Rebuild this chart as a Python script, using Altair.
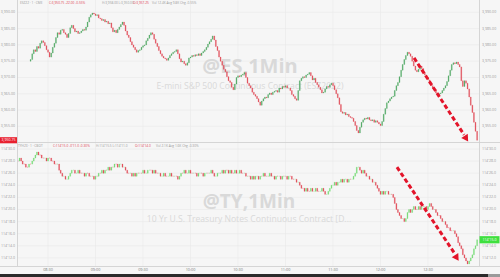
import altair as alt
import numpy as np
import pandas as pd

# ---------------- data ----------------
# minutes are counted from 08:30
es_start_minute = -11
es_first_open = 3975.00
es_close = [
    3975.50, 3977.25, 3978.50, 3978.00, 3979.50, 3979.00, 3980.50, 3981.25, 3980.75, 3979.75,
    3978.50, 3977.75, 3976.25, 3977.50, 3979.25, 3980.50, 3982.25, 3983.75, 3983.25, 3984.50,
    3984.75, 3983.75, 3983.25, 3982.25, 3983.50, 3985.25, 3986.00, 3985.00, 3984.00, 3984.25,
    3983.50, 3983.75, 3984.25, 3984.75, 3984.50, 3985.50, 3987.00, 3988.50, 3989.25, 3989.75,
    3989.50, 3989.00, 3989.25, 3988.25, 3988.00, 3987.50, 3987.75, 3987.00, 3987.25, 3986.50,
    3986.75, 3985.25, 3984.00, 3984.50, 3983.75, 3984.75, 3985.50, 3986.25, 3987.00, 3986.00,
    3984.25, 3983.00, 3982.25, 3981.00, 3980.00, 3979.25, 3978.50, 3977.75, 3978.25, 3978.50,
    3979.25, 3979.75, 3980.00, 3981.25, 3982.00, 3983.00, 3983.75, 3983.25, 3981.75, 3980.50,
    3979.50, 3978.25, 3977.25, 3976.50, 3976.00, 3975.75, 3975.25, 3976.00, 3976.75, 3977.25,
    3977.75, 3978.00, 3978.50, 3977.25, 3975.75, 3974.75, 3975.00, 3974.25, 3973.75, 3974.50,
    3976.00, 3976.25, 3976.75, 3976.50, 3977.00, 3976.75, 3977.25, 3976.75, 3977.50, 3978.00,
    3978.50, 3979.25, 3980.25, 3981.00, 3981.75, 3982.75, 3981.50, 3979.50, 3978.25, 3976.25,
    3975.00, 3973.75, 3972.50, 3971.75, 3970.25, 3969.00, 3968.50, 3967.00, 3966.25, 3968.00,
    3970.00, 3970.50, 3970.25, 3970.75, 3971.00, 3971.50, 3970.00, 3968.25, 3967.50, 3966.75,
    3965.50, 3964.75, 3964.25, 3963.50, 3962.50, 3961.50, 3962.75, 3963.50, 3964.00, 3963.75,
    3964.75, 3965.25, 3964.75, 3965.50, 3965.75, 3966.00, 3965.50, 3966.75, 3966.50, 3967.25,
    3967.00, 3967.50, 3966.75, 3966.75, 3966.00, 3964.75, 3964.25, 3963.50, 3963.00, 3966.00,
    3969.00, 3969.75, 3970.25, 3970.00, 3970.75, 3971.00, 3971.50, 3970.50, 3969.25, 3969.75,
    3968.50, 3967.75, 3967.00, 3966.25, 3965.25, 3965.50, 3966.50, 3967.25, 3967.00, 3967.75,
    3968.25, 3967.50, 3966.25, 3965.00, 3963.75, 3961.75, 3959.50, 3959.00, 3959.25, 3958.50,
    3958.75, 3958.00, 3957.75, 3957.50, 3956.50, 3955.25, 3953.75, 3953.00, 3954.75, 3956.25,
    3957.00, 3957.50, 3957.25, 3957.75, 3957.00, 3956.75, 3957.00, 3956.25, 3956.75, 3956.25,
    3955.75, 3955.25, 3956.50, 3958.75, 3960.50, 3962.25, 3962.75, 3963.50, 3964.00, 3964.25,
    3966.00, 3967.50, 3968.50, 3970.25, 3972.25, 3974.00, 3975.50, 3976.75, 3977.75, 3977.25,
    3976.50, 3975.00, 3973.50, 3972.25, 3971.75, 3972.50, 3973.50, 3972.75, 3971.50, 3970.75,
    3970.00, 3969.25, 3968.00, 3967.50, 3966.75, 3966.25, 3965.25, 3964.50, 3965.00, 3965.25,
    3966.00, 3966.75, 3967.50, 3968.75, 3970.50, 3972.25, 3974.00, 3974.50, 3974.25, 3974.75,
    3974.00, 3973.25, 3969.00, 3967.25, 3969.00, 3968.25, 3966.50, 3964.00, 3961.50, 3959.25,
    3956.25, 3953.50, 3950.75,
]

# 10-yr note closes, in 32nds above the 114 handle
ty_handle = 114
ty_start_minute = -19
ty_first_open_32 = 28.0
ty_close_32 = [
    28.0, 28.5, 28.0, 27.5, 27.5, 27.0, 27.0, 27.5, 27.5, 28.0,
    28.5, 29.0, 29.5, 29.0, 29.0, 28.5, 28.5, 28.5, 28.0, 28.5,
    28.5, 28.0, 28.0, 27.5, 27.5, 27.5, 26.5, 26.0, 25.5, 25.5,
    25.0, 25.0, 25.5, 26.0, 26.5, 26.5, 26.0, 26.0, 26.5, 26.0,
    26.0, 26.0, 25.5, 26.0, 26.0, 25.5, 25.5, 25.5, 25.0, 25.5,
    25.5, 26.0, 26.0, 26.5, 26.0, 26.5, 26.5, 27.0, 26.5, 27.0,
    27.0, 27.5, 27.5, 27.0, 27.5, 27.5, 27.0, 27.0, 26.5, 26.0,
    26.0, 26.0, 25.5, 26.0, 25.5, 26.0, 26.0, 26.0, 26.0, 26.5,
    26.0, 26.0, 26.5, 26.5, 26.5, 26.0, 26.5, 26.0, 26.0, 26.0,
    25.5, 25.5, 26.0, 25.5, 25.5, 25.5, 26.0, 25.5, 25.5, 25.5,
    25.5, 25.0, 25.5, 26.0, 26.0, 26.5, 26.0, 26.0, 26.5, 26.0,
    26.0, 26.0, 26.0, 25.5, 26.0, 26.0, 26.0, 25.5, 26.0, 26.0,
    26.0, 26.0, 26.5, 26.0, 25.5, 25.5, 26.0, 26.0, 26.0, 26.5,
    26.0, 26.5, 26.5, 26.0, 26.5, 26.0, 26.0, 26.5, 26.0, 26.0,
    26.5, 26.0, 26.0, 26.0, 25.5, 25.5, 25.5, 25.0, 25.5, 25.0,
    25.5, 25.5, 25.0, 25.5, 25.5, 26.0, 25.5, 25.5, 25.5, 26.0,
    25.5, 25.5, 25.0, 25.5, 25.5, 25.5, 25.0, 25.5, 25.5, 25.5,
    25.0, 25.5, 25.5, 25.0, 25.0, 25.0, 24.5, 24.5, 24.0, 23.5,
    23.5, 23.0, 23.5, 23.0, 23.0, 23.5, 23.0, 23.0, 23.5, 23.0,
    23.0, 23.0, 23.5, 23.0, 22.5, 22.5, 23.0, 23.5, 24.0, 24.0,
    24.5, 24.0, 24.5, 24.5, 25.0, 24.5, 25.0, 25.0, 24.5, 25.0,
    25.0, 25.0, 25.5, 26.0, 27.0, 27.0, 26.5, 26.0, 26.5, 26.0,
    25.5, 25.5, 25.0, 25.0, 24.5, 24.5, 24.0, 23.5, 23.0, 22.5,
    23.0, 22.5, 23.0, 23.0, 22.5, 22.5, 22.5, 22.0, 21.0, 20.0,
    19.5, 19.0, 18.5, 18.5, 18.0, 18.5, 19.5, 20.0, 19.5, 20.0,
    20.5, 20.0, 20.0, 20.5, 20.0, 20.5, 20.5, 20.5, 20.0, 20.5,
    21.0, 20.5, 20.0, 20.0, 19.5, 19.0, 19.0, 18.5, 18.0, 18.0,
    17.5, 17.0, 17.0, 16.5, 16.5, 16.5, 16.0, 15.5, 14.5, 14.0,
    13.5, 12.5, 12.0, 11.5, 11.0, 11.5, 12.0, 12.5, 13.5, 14.0,
    15.0,
]

time_ticks = [0, 30, 60, 90, 120, 150, 180, 210, 240]
time_labels = ["08:30", "09:00", "09:30", "10:00", "10:30", "11:00", "11:30", "12:00", "12:30"]

es_grid = [3990, 3985, 3980, 3975, 3970, 3965, 3960, 3955]
ty_grid_32 = [30, 28, 26, 24, 22, 20, 18, 16, 14, 12]

# red dashed arrows (minute, price)
es_arrow_min = [231.2, 262.8]
es_arrow_px = [3976.0, 3952.4]
es_head = [264.2, 3951.2]
ty_arrow_min = [220.4, 256.9]
ty_arrow_32 = [27.0, 12.7]
ty_head = [258.2, 12.0]

es_title = "@ES,1Min"
es_subtitle = "E-mini S&P 500 Continuous Contract (ESZ2022)"
ty_title = "@TY,1Min"
ty_subtitle = "10 Yr U.S. Treasury Notes Continuous Contract [D..."

es_header = ["ESZ22 · 1 · CME", "C:3,950.75 -22.00 -0.55%", "H:3,958.00 L:3,950.00",
             "O:3,957.25", "Vol 12.4K  Avg 9.8K  Chg -0.55%"]
ty_header = ["TYH23 · 1 · CBOT", "C:114'15.0 -0'11.0 -0.30%", "H:114'15.5 L:114'11.0",
             "O:114'14.0", "Vol 2.1K  Avg 1.6K  Chg -0.30%"]

# ---------------- layout / style ----------------
W, H = 462, 266
ES_TOP, ES_BOT = 0, 142
TY_TOP, TY_BOT = 143, 266
XDOM = [-19.6, 272.2]
BG = "#f6f6f6"
GRID = "#eaeaea"
LABEL = "#9a9a9a"
ES_UP, ES_DN = "#45a35a", "#e0404e"
TY_UP, TY_DN = "#6ad86a", "#e03e4c"
ARROW = "#e3142a"
WM = "#d9d9d9"
FONT = "Open Sans"
HALF = 0.26  # half candle body width, minutes


def ty_price(v):
    return ty_handle + v / 32.0


xsc = alt.Scale(domain=XDOM, nice=False, zero=False)
es_sc = alt.Scale(domain=[3950.21, 3993.77], range=[ES_BOT, ES_TOP], nice=False, zero=False)
ty_sc = alt.Scale(domain=[ty_price(10.66), ty_price(30.99)], range=[TY_BOT, TY_TOP], nice=False, zero=False)

# candle tables
es_m = np.arange(es_start_minute, es_start_minute + len(es_close))
es_open = [es_first_open] + es_close[:-1]
es_df = pd.DataFrame({"m": es_m, "o": es_open, "c": es_close})
es_df["m0"] = es_df.m - HALF
es_df["m1"] = es_df.m + HALF
es_df["col"] = np.where(es_df.c >= es_df.o, ES_UP, ES_DN)

ty_m = np.arange(ty_start_minute, ty_start_minute + len(ty_close_32))
ty_open = [ty_first_open_32] + ty_close_32[:-1]
ty_df = pd.DataFrame({"m": ty_m, "o": [ty_price(v) for v in ty_open],
                      "c": [ty_price(v) for v in ty_close_32]})
ty_df["m0"] = ty_df.m - HALF
ty_df["m1"] = ty_df.m + HALF
ty_df["col"] = np.where(np.array(ty_close_32) > np.array(ty_open), TY_UP,
                        np.where(np.array(ty_close_32) < np.array(ty_open), TY_DN,
                                 np.where(ty_df.m % 2 == 0, TY_UP, TY_DN)))

one = pd.DataFrame({"a": [0]})

layers = []

# vertical grid
layers.append(alt.Chart(pd.DataFrame({"m": time_ticks})).mark_rule(color=GRID, strokeWidth=0.6).encode(
    x=alt.X("m:Q", scale=xsc, axis=None)))
# horizontal grids
layers.append(alt.Chart(pd.DataFrame({"p": es_grid})).mark_rule(color=GRID, strokeWidth=0.6).encode(
    y=alt.Y("p:Q", scale=es_sc, axis=None)))
layers.append(alt.Chart(pd.DataFrame({"p": [ty_price(v) for v in ty_grid_32]})).mark_rule(
    color=GRID, strokeWidth=0.6).encode(y=alt.Y("p:Q", scale=ty_sc, axis=None)))

# watermarks
def wm(text, x, y, size, weight):
    return alt.Chart(one).mark_text(font=FONT, fontSize=size, fontWeight=weight, color=WM,
                                    align="center", baseline="middle").encode(
        x=alt.value(x), y=alt.value(y), text=alt.value(text))

layers += [wm(es_title, 233, 67, 20, "bold"), wm(es_subtitle, 233, 86, 8.6, "normal"),
           wm(ty_title, 232, 202, 19, "bold"), wm(ty_subtitle, 232, 219, 8.6, "normal")]

# candles
layers.append(alt.Chart(es_df).mark_rect(strokeWidth=0.3).encode(
    x=alt.X("m0:Q", scale=xsc, axis=None), x2="m1:Q",
    y=alt.Y("o:Q", scale=es_sc, axis=None), y2="c:Q",
    fill=alt.Fill("col:N", scale=None), stroke=alt.Stroke("col:N", scale=None)))
layers.append(alt.Chart(ty_df).mark_rect(strokeWidth=0.3).encode(
    x=alt.X("m0:Q", scale=xsc, axis=None), x2="m1:Q",
    y=alt.Y("o:Q", scale=ty_sc, axis=None), y2="c:Q",
    fill=alt.Fill("col:N", scale=None), stroke=alt.Stroke("col:N", scale=None)))

# arrows
layers.append(alt.Chart(pd.DataFrame({"m": es_arrow_min, "p": es_arrow_px})).mark_line(
    color=ARROW, strokeWidth=3, strokeDash=[4.5, 2.5]).encode(
    x=alt.X("m:Q", scale=xsc, axis=None), y=alt.Y("p:Q", scale=es_sc, axis=None)))
layers.append(alt.Chart(pd.DataFrame({"m": [es_head[0]], "p": [es_head[1]]})).mark_point(
    shape="triangle-up", angle=147, filled=True, opacity=1, color=ARROW, size=60).encode(
    x=alt.X("m:Q", scale=xsc, axis=None), y=alt.Y("p:Q", scale=es_sc, axis=None)))
layers.append(alt.Chart(pd.DataFrame({"m": ty_arrow_min, "p": [ty_price(v) for v in ty_arrow_32]})).mark_line(
    color=ARROW, strokeWidth=3, strokeDash=[4.5, 2.5]).encode(
    x=alt.X("m:Q", scale=xsc, axis=None), y=alt.Y("p:Q", scale=ty_sc, axis=None)))
layers.append(alt.Chart(pd.DataFrame({"m": [ty_head[0]], "p": [ty_price(ty_head[1])]})).mark_point(
    shape="triangle-up", angle=147, filled=True, opacity=1, color=ARROW, size=60).encode(
    x=alt.X("m:Q", scale=xsc, axis=None), y=alt.Y("p:Q", scale=ty_sc, axis=None)))

# frame lines
def vline(x):
    return alt.Chart(one).mark_rule(color="#cdcdcd", strokeWidth=0.8).encode(
        x=alt.value(x), y=alt.value(0), y2=alt.value(H))

def hline(y, x0=-17, x1=W + 21):
    return alt.Chart(one).mark_rule(color="#cdcdcd", strokeWidth=0.8).encode(
        y=alt.value(y), x=alt.value(x0), x2=alt.value(x1))

layers += [vline(0.5), vline(W + 0.5), hline(ES_BOT + 0.5), hline(H + 0.5)]

# axis labels (left + right)
es_lab = pd.DataFrame({"p": es_grid, "t": [f"{v:,.2f}" for v in es_grid]})
ty_lab = pd.DataFrame({"p": [ty_price(v) for v in ty_grid_32],
                       "t": [f"{ty_handle}'{v:04.1f}" for v in ty_grid_32]})
for df, sc in ((es_lab, es_sc), (ty_lab, ty_sc)):
    for xpos, al in ((-2, "right"), (W + 3, "left")):
        layers.append(alt.Chart(df).mark_text(font=FONT, fontSize=3.6, color=LABEL, align=al,
                                              baseline="middle").encode(
            x=alt.value(xpos), y=alt.Y("p:Q", scale=sc, axis=None), text="t:N"))

# time labels
layers.append(alt.Chart(pd.DataFrame({"m": time_ticks, "t": time_labels})).mark_text(
    font=FONT, fontSize=3.8, color="#777777", align="center", baseline="middle").encode(
    x=alt.X("m:Q", scale=xsc, axis=None), y=alt.value(H + 4), text="t:N"))

# last-price boxes
box = "M-1,-0.36H1V0.36H-1Z"
es_last = pd.DataFrame({"p": [es_close[-1]], "t": [f"{es_close[-1]:,.2f}"]})
ty_last = pd.DataFrame({"p": [ty_price(ty_close_32[-1])], "t": [f"{ty_handle}'{ty_close_32[-1]:04.1f}"]})
layers.append(alt.Chart(es_last).mark_point(shape=box, filled=True, opacity=1, color="#e8202e",
                                            size=289).encode(
    x=alt.value(-8.5), y=alt.Y("p:Q", scale=es_sc, axis=None)))
layers.append(alt.Chart(es_last).mark_text(font=FONT, fontSize=3.6, color="white", align="center",
                                           baseline="middle").encode(
    x=alt.value(-8.5), y=alt.Y("p:Q", scale=es_sc, axis=None), text="t:N"))
layers.append(alt.Chart(ty_last).mark_point(shape=box, filled=True, opacity=1, color="#3fe03f",
                                            size=400).encode(
    x=alt.value(W + 10.5), y=alt.Y("p:Q", scale=ty_sc, axis=None)))
layers.append(alt.Chart(ty_last).mark_text(font=FONT, fontSize=3.6, color="white", align="center",
                                           baseline="middle").encode(
    x=alt.value(W + 10.5), y=alt.Y("p:Q", scale=ty_sc, axis=None), text="t:N"))

# header lines
hdr_col = [LABEL, "#e0404e", LABEL, "#e0404e", LABEL]
es_hdr_x = [3, 32, 85, 116, 135]
ty_hdr_x = [1, 36, 79, 118, 139]
for texts, xs, ypos in ((es_header, es_hdr_x, 3), (ty_header, ty_hdr_x, 146)):
    for t, xx, cc in zip(texts, xs, hdr_col):
        layers.append(alt.Chart(one).mark_text(font=FONT, fontSize=3.2, color=cc, align="left",
                                               baseline="middle").encode(
            x=alt.value(xx), y=alt.value(ypos), text=alt.value(t)))

# bottom toolbar strip
layers.append(alt.Chart(one).mark_rect(color="#2b2b2b").encode(
    x=alt.value(-17), x2=alt.value(471), y=alt.value(H + 8), y2=alt.value(H + 11)))
layers.append(alt.Chart(one).mark_rect(color="#9a9a9a").encode(
    x=alt.value(471), x2=alt.value(W + 21), y=alt.value(H + 8), y2=alt.value(H + 11)))

chart = alt.layer(*layers).resolve_scale(y="independent").properties(
    width=W, height=H,
    autosize=alt.AutoSizeParams(type="none"),
    padding={"left": 17, "right": 21, "top": 0, "bottom": 11},
    background=BG,
).configure_view(stroke=None, fill=BG)

chart.save("out.html", embed_options={"renderer": "svg", "actions": False})
